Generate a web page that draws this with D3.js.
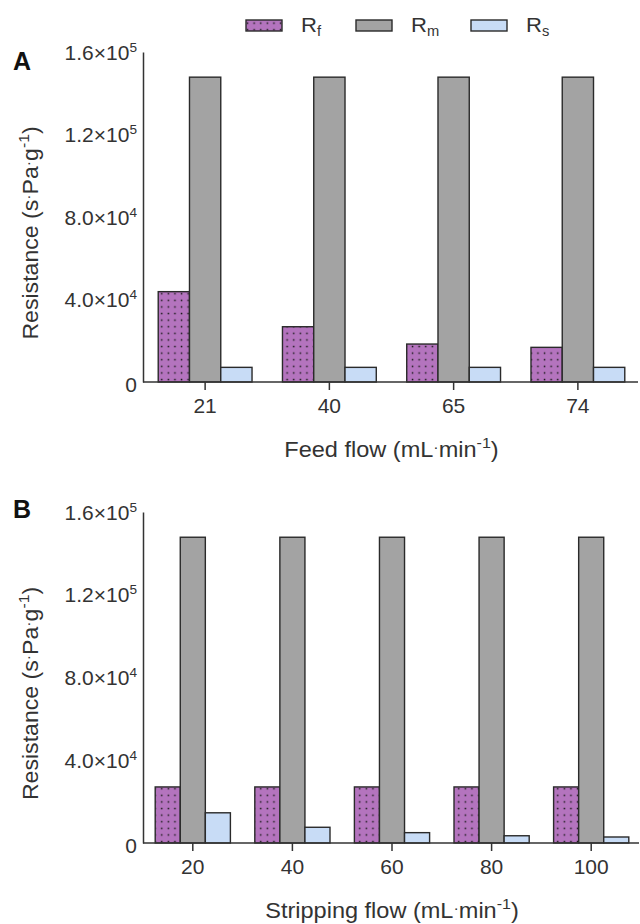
<!DOCTYPE html>
<html>
<head>
<meta charset="utf-8">
<script src="https://cdn.jsdelivr.net/npm/d3@7/dist/d3.min.js"></script>
<style>
  html, body { margin: 0; padding: 0; background: #fff; }
  svg { display: block; font-family: "Liberation Sans", Arial, sans-serif; }
</style>
</head>
<body>
<svg id="chart" width="640" height="924"></svg>
<script>
// ---- data ----
const seriesKeys = ["Rf", "Rm", "Rs"];
const seriesSubs = ["f", "m", "s"];
const seriesColors = ["#b474be", "#a3a3a3", "#c8dcf6"];

const feedFlow = ["21", "40", "65", "74"];
const feedRf = [43800, 26800, 18400, 16800];
const feedRm = [147800, 147800, 147800, 147800];
const feedRs = [7100, 7100, 7100, 7100];

const stripFlow = ["20", "40", "60", "80", "100"];
const stripRf = [27100, 27100, 27100, 27100, 27100];
const stripRm = [147800, 147800, 147800, 147800, 147800];
const stripRs = [14600, 7600, 5000, 3500, 2900];

const yTicks = [0, 40000, 80000, 120000, 160000];
const yTickMant = ["0", "4.0", "8.0", "1.2", "1.6"];
const yTickExp = ["", "4", "4", "5", "5"];

// ---- drawing ----
const svg = d3.select("#chart");
const SX = 1.05;
const TXT = "#333";

const defs = svg.append("defs");
const pat = defs.append("pattern")
  .attr("id", "dots").attr("patternUnits", "userSpaceOnUse")
  .attr("width", 6.6).attr("height", 6.6);
pat.append("rect").attr("width", 6.6).attr("height", 6.6).attr("fill", seriesColors[0]);
pat.append("rect").attr("x", 2.6).attr("y", 2.6).attr("width", 1.5).attr("height", 1.5).attr("fill", "#1a1a1a");

function fillFor(i) { return i === 0 ? "url(#dots)" : seriesColors[i]; }

// unit text with raised multiplication dots and a -1 superscript
function unitTitle(sel, parts) {
  let pending = 0;
  parts.forEach(p => {
    if (p === "dot") {
      sel.append("tspan").attr("dy", pending - 5).attr("font-size", 15).text("\u00b7");
      pending = 5;
    } else if (p === "sup") {
      sel.append("tspan").attr("font-size", 15).attr("dy", pending - 9).text("-1");
      pending = 9;
    } else {
      sel.append("tspan").attr("dy", pending).text(p);
      pending = 0;
    }
  });
}

function panel(opts) {
  const { cats, values, top, bottom, left, right, letter, letterY, xTitle } = opts;
  const g = svg.append("g");
  const y = d3.scaleLinear().domain([0, 160000]).range([bottom, top]);
  const x = d3.scaleBand().domain(cats).range([left, right]).paddingInner(0.245).paddingOuter(0.1225);
  const xs = d3.scaleBand().domain(seriesKeys).range([0, x.bandwidth()]);

  // bars
  cats.forEach((c, ci) => {
    seriesKeys.forEach((k, si) => {
      const v = values[si][ci];
      g.append("rect")
        .attr("x", x(c) + xs(k))
        .attr("y", y(v))
        .attr("width", xs.bandwidth())
        .attr("height", y(0) - y(v))
        .attr("fill", fillFor(si))
        .attr("stroke", "#2a2a2a")
        .attr("stroke-width", 1.4);
    });
  });

  // y axis
  const yAxis = d3.axisLeft(y).tickValues(yTicks).tickSize(0).tickSizeOuter(0).tickFormat(() => "");
  const ya = g.append("g").attr("transform", `translate(${left},0)`).call(yAxis);
  ya.select(".domain").attr("stroke", "#333").attr("stroke-width", 1.5);
  ya.selectAll(".tick text").each(function(d) {
    const t = d3.select(this);
    const idx = yTicks.indexOf(d);
    t.text(null)
      .attr("x", null).attr("dy", null)
      .attr("transform", `translate(-6,${idx === 0 ? 9 : 7}) scale(${SX},1)`)
      .attr("font-size", 20).attr("fill", TXT)
      .attr("font-family", "Liberation Sans, Arial, sans-serif")
      .attr("text-anchor", "end");
    if (yTickExp[idx] === "") {
      t.append("tspan").text(yTickMant[idx]);
    } else {
      t.append("tspan").text(yTickMant[idx] + "\u00d710");
      t.append("tspan").attr("font-size", 13).attr("dy", -8).text(yTickExp[idx]);
    }
  });

  // x axis
  const xAxis = d3.axisBottom(x).tickSize(8).tickSizeOuter(0);
  const xa = g.append("g").attr("transform", `translate(0,${bottom})`).call(xAxis);
  xa.select(".domain").attr("stroke", "#333").attr("stroke-width", 1.5)
    .attr("d", `M${left},0H${right - 2}`);
  xa.selectAll(".tick line").attr("stroke", "#333").attr("stroke-width", 1.5);
  xa.selectAll(".tick text")
    .attr("y", null).attr("dy", null)
    .attr("transform", `translate(0,31) scale(${SX},1)`)
    .attr("font-size", 20).attr("fill", TXT)
    .attr("font-family", "Liberation Sans, Arial, sans-serif");

  // x title
  const xt = g.append("text")
    .attr("transform", `translate(${(left + right) / 2},${bottom + 75}) scale(1.07,1)`)
    .attr("text-anchor", "middle").attr("font-size", 22).attr("fill", TXT);
  unitTitle(xt, [xTitle + " (mL", "dot", "min", "sup", ")"]);

  // y title
  const yt = g.append("text")
    .attr("transform", `translate(38,${(top + bottom) / 2 + 16}) rotate(-90) scale(1.05,1)`)
    .attr("text-anchor", "middle").attr("font-size", 22).attr("fill", TXT);
  unitTitle(yt, ["Resistance (s", "dot", "Pa", "dot", "g", "sup", ")"]);

  // panel letter
  g.append("text").attr("x", 13).attr("y", letterY)
    .attr("font-size", 25).attr("font-weight", "bold").attr("fill", "#111").text(letter);
}

panel({ cats: feedFlow, values: [feedRf, feedRm, feedRs], top: 52, bottom: 382, left: 143, right: 640,
        letter: "A", letterY: 70, xTitle: "Feed flow" });
panel({ cats: stripFlow, values: [stripRf, stripRm, stripRs], top: 512, bottom: 843, left: 143, right: 641,
        letter: "B", letterY: 518, xTitle: "Stripping flow" });

// legend
const legendX = [246, 356, 471];
const lg = svg.append("g");
seriesKeys.forEach((k, i) => {
  lg.append("rect").attr("x", legendX[i]).attr("y", 20).attr("width", 36).attr("height", 11)
    .attr("fill", fillFor(i)).attr("stroke", "#2a2a2a").attr("stroke-width", 1.4);
  const t = lg.append("text").attr("transform", `translate(${legendX[i] + 55},32) scale(${SX},1)`)
    .attr("font-size", 21).attr("fill", TXT);
  t.append("tspan").text("R");
  t.append("tspan").attr("font-size", 14).attr("dy", 4).text(seriesSubs[i]);
});
</script>
</body>
</html>
